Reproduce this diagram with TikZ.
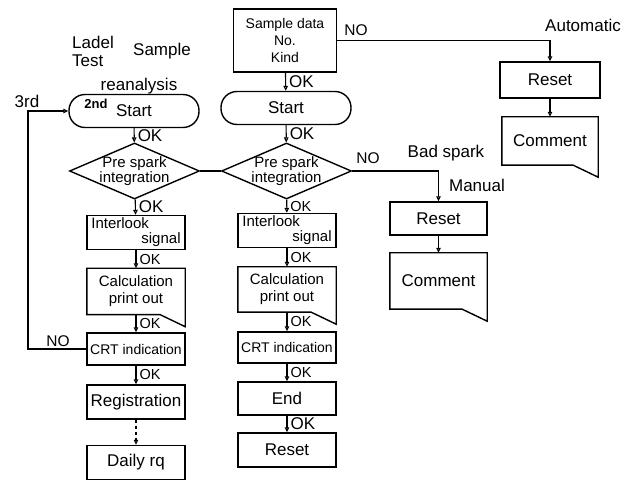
\documentclass[tikz,border=0pt]{standalone}
\usepackage{fontspec}
\setmainfont{Liberation Sans}
\usetikzlibrary{shapes.geometric,arrows.meta}

\newcommand{\fsbig}{\fontsize{17}{19}\selectfont}
\newcommand{\fsmid}{\fontsize{15}{17}\selectfont}
\newcommand{\fssmall}{\fontsize{14.5}{15}\selectfont}

\tikzset{
  box/.style={draw, line width=1.4pt, minimum width=98pt, minimum height=34pt,
    inner sep=1pt, align=center, font=\fsbig},
  term/.style={box, rounded corners=16pt, minimum width=130pt, minimum height=33pt},
  decision/.style={draw, diamond, line width=1.4pt, minimum width=130pt,
    minimum height=56pt, inner sep=0pt},
  dtext/.style={align=center, inner sep=0pt, font=\fontsize{15}{15}\selectfont},
  doc/.style={minimum width=98pt, minimum height=46pt, inner sep=1pt,
    align=center, font=\fsmid},
  arr/.style={line width=1.1pt, -{Triangle[open,length=5pt,width=4.5pt]}},
  link/.style={line width=1.1pt},
  oklab/.style={right, xshift=2pt, inner sep=1pt, font=\fssmall},
  okbig/.style={oklab, font=\fsbig},
  lab/.style={inner sep=0pt, font=\fsbig}
}

\begin{document}
\begin{tikzpicture}[x=1pt,y=-1pt]
  \useasboundingbox (0,0) rectangle (633,481);
  %% left column (reanalysis)
  \node[term] (startL) at (134,111) {\raisebox{-4pt}{Start}};
  \node[decision, label={[dtext]center:{Pre spark\\integration}}] (dL) at (134.5,171) {};
  \node[box, font=\fontsize{15}{15}\selectfont, align=left] (ilL) at (136,232.5) {Interlook\\\hspace*{50pt}signal};
  \node[doc] (calcL) at (136,291.5) {Calculation\\print out};
  \node[box, minimum height=32pt, font=\fontsize{14}{15}\selectfont] (crtL) at (136,349) {CRT indication};
  \node[box] (regL) at (136,402) {Registration};
  \node[box] (dailyL) at (136,462.5) {Daily rq};
  %% middle column
  \node[box, minimum width=103pt, minimum height=63pt, font=\fontsize{14}{17}\selectfont] (sample) at (285,40.5) {Sample data\\No.\\Kind};
  \node[term] (startM) at (286,108) {Start};
  \node[decision, label={[dtext]center:{Pre spark\\integration}}] (dM) at (286.5,171) {};
  \node[box, font=\fontsize{15}{15}\selectfont, align=left] (ilM) at (287,230.5) {Interlook\\\hspace*{50pt}signal};
  \node[doc, minimum height=45pt] (calcM) at (287,289.5) {Calculation\\print out};
  \node[box, minimum height=31pt, font=\fontsize{14}{15}\selectfont] (crtM) at (287,347.5) {CRT indication};
  \node[box, minimum height=33pt] (endM) at (287,398.5) {End};
  \node[box] (resetM) at (287,450) {Reset};
  %% right branches
  \node[box, minimum width=100pt, minimum height=36pt] (resetA) at (550,80) {Reset};
  \node[doc, minimum width=96pt, minimum height=48pt, font=\fsbig] (comA) at (550,141) {Comment};
  \node[box, minimum width=97pt, minimum height=33pt] (resetMan) at (438.5,218.5) {Reset};
  \node[doc, minimum width=97pt, minimum height=56pt, font=\fsbig] (comMan) at (438.5,281) {Comment};
  %% document shapes
  \foreach \n in {calcL,calcM,comA,comMan}
    \draw[line width=1.4pt] (\n.north west) -- (\n.north east) -- ([yshift=-12pt]\n.south east)
      -- ([xshift=-25pt]\n.south east) -- (\n.south west) -- cycle;
  %% free labels
  \node[lab, anchor=west] (ladel) at (72,42) {Ladel};
  \node[lab, anchor=west] (test) at (72,61) {Test};
  \node[lab] (smp) at (162,51) {Sample};
  \node[lab] (reana) at (139,86) {reanalysis};
  \node[lab] (third) at (27,101) {3rd};
  \node[inner sep=0pt, font=\fontsize{13}{14}\selectfont\bfseries] (second) at (96,104) {2nd};
  \node[lab, font=\fontsize{15.5}{17}\selectfont] (noL) at (58,341) {NO};
  \node[lab, font=\fontsize{15.5}{17}\selectfont] (noS) at (356,30) {NO};
  \node[lab, font=\fontsize{15.5}{17}\selectfont] (noD) at (368,158) {NO};
  \node[lab] (auto) at (583,25) {Automatic};
  \node[lab] (bad) at (446,153) {Bad spark};
  \node[lab] (manual) at (477,185) {Manual};
  %% left flow
  \draw[arr] (startL) -- node[okbig] (ok1) {OK} (dL);
  \draw[arr] (dL) -- node[okbig] (ok2) {OK} (ilL);
  \draw[arr] (ilL) -- node[oklab] (ok3) {OK} (calcL);
  \draw[arr] (calcL) -- node[oklab] (ok4) {OK} (crtL);
  \draw[arr] (crtL) -- node[oklab] (ok5) {OK} (regL);
  \draw[arr, dashed] (regL) -- (dailyL);
  \coordinate (loopL) at (28,230);
  \draw[arr] (crtL.west) -| (loopL) |- (startL.west);
  \draw[link] (dL.east) -- (dM.west);
  %% middle flow
  \draw[arr] (sample) -- node[okbig] (ok6) {OK} (startM);
  \draw[arr] (startM) -- node[okbig] (ok7) {OK} (dM);
  \draw[arr] (dM) -- node[oklab] (ok8) {OK} (ilM);
  \draw[arr] (ilM) -- node[oklab] (ok9) {OK} (calcM);
  \draw[arr] (calcM) -- node[oklab] (ok10) {OK} (crtM);
  \draw[arr] (crtM) -- node[oklab] (ok11) {OK} (endM);
  \draw[arr] (endM) -- node[okbig] (ok12) {OK} (resetM);
  %% NO branches
  \draw[arr] (sample.east) -| (resetA.north);
  \draw[arr] (resetA) -- (comA);
  \draw[arr] (dM.east) -| (resetMan.north);
  \draw[arr] (resetMan) -- (comMan);
\end{tikzpicture}
\end{document}
